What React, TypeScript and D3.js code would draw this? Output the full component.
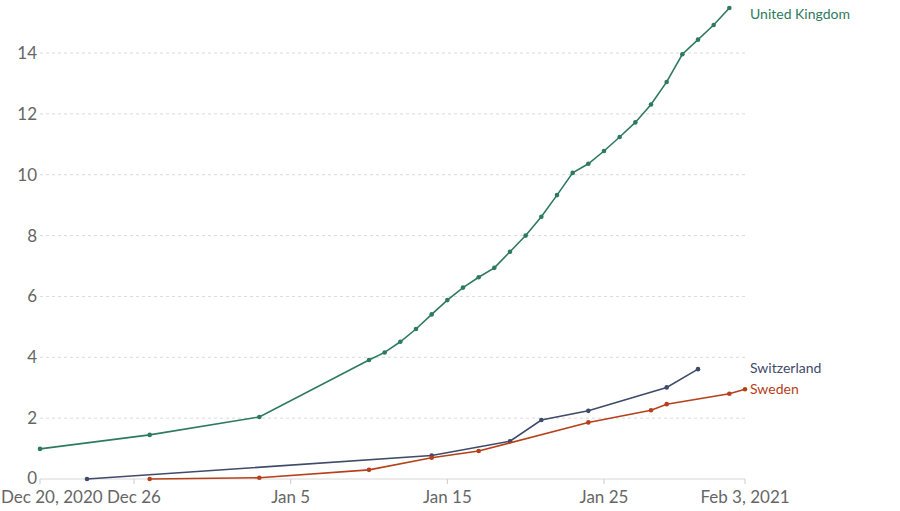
import React from "react";
import * as d3 from "d3";

const ukDates = ["2020-12-20","2020-12-27","2021-01-03","2021-01-10","2021-01-11","2021-01-12","2021-01-13","2021-01-14","2021-01-15","2021-01-16","2021-01-17","2021-01-18","2021-01-19","2021-01-20","2021-01-21","2021-01-22","2021-01-23","2021-01-24","2021-01-25","2021-01-26","2021-01-27","2021-01-28","2021-01-29","2021-01-30","2021-01-31","2021-02-01","2021-02-02"];
const ukValues = [0.99,1.45,2.04,3.91,4.16,4.51,4.93,5.41,5.88,6.29,6.63,6.94,7.47,8.0,8.62,9.33,10.06,10.36,10.78,11.24,11.72,12.31,13.05,13.96,14.44,14.92,15.48];

const chDates = ["2020-12-23","2021-01-14","2021-01-19","2021-01-21","2021-01-24","2021-01-29","2021-01-31"];
const chValues = [0.0,0.77,1.24,1.94,2.24,3.01,3.61];

const seDates = ["2020-12-27","2021-01-03","2021-01-10","2021-01-14","2021-01-17","2021-01-24","2021-01-28","2021-01-29","2021-02-02","2021-02-03"];
const seValues = [0.0,0.04,0.30,0.70,0.92,1.86,2.26,2.46,2.80,2.95];

const yTicks = [0, 2, 4, 6, 8, 10, 12, 14];
const xTickDates = ["2020-12-20","2020-12-26","2021-01-05","2021-01-15","2021-01-25","2021-02-03"];
const xTickLabels = ["Dec 20, 2020","Dec 26","Jan 5","Jan 15","Jan 25","Feb 3, 2021"];

const seriesNames = ["United Kingdom", "Switzerland", "Sweden"];
const seriesColors = ["#2e7a5e", "#3f4b68", "#b6401a"];

const parse = d3.timeParse("%Y-%m-%d");

export default function App() {
  const W = 900, H = 511;
  const left = 40, right = 745, top = 8, bottom = 479;
  const x = d3.scaleTime().domain([parse("2020-12-20")!, parse("2021-02-03")!]).range([left, right]);
  const y = d3.scaleLinear().domain([0, 15.48]).range([bottom, top]);

  const series = [
    { name: seriesNames[0], color: seriesColors[0], pts: ukDates.map((d, i) => ({ d: parse(d)!, v: ukValues[i] })), labelY: 14 },
    { name: seriesNames[1], color: seriesColors[1], pts: chDates.map((d, i) => ({ d: parse(d)!, v: chValues[i] })), labelY: 368 },
    { name: seriesNames[2], color: seriesColors[2], pts: seDates.map((d, i) => ({ d: parse(d)!, v: seValues[i] })), labelY: 389 },
  ];

  const line = d3.line<{ d: Date; v: number }>().x(p => x(p.d)).y(p => y(p.v));
  const font = "Lato, 'Noto Sans', sans-serif";

  return (
    <svg width={W} height={H} style={{ position: "absolute", left: 0, top: 0, background: "#fff" }} fontFamily={font}>
      {yTicks.map(t => (
        <g key={t}>
          {t > 0 && (
            <line x1={left} x2={right} y1={y(t)} y2={y(t)} stroke="#dadada" strokeDasharray="3,3" strokeWidth={1} />
          )}
          <text x={37} y={y(t)} dy={t === 0 ? "0.3em" : "0.35em"} textAnchor="end" fontSize={17} fill="#666">{t}</text>
        </g>
      ))}
      <line x1={left} x2={right} y1={bottom} y2={bottom} stroke="#d8d8d8" strokeWidth={1} />
      {xTickDates.map((d, i) => {
        const xx = x(parse(d)!);
        const anchor = i === 0 ? "start" : "middle";
        const tx = i === 0 ? 1 : xx;
        return (
          <g key={d}>
            <line x1={xx} x2={xx} y1={bottom} y2={bottom + 5} stroke="#ccc" />
            <text x={tx} y={503} textAnchor={anchor} fontSize={17} fill="#666">{xTickLabels[i]}</text>
          </g>
        );
      })}
      {series.map(s => (
        <g key={s.name}>
          <path d={line(s.pts) || ""} fill="none" stroke={s.color} strokeWidth={1.6} />
          {s.pts.map((p, i) => (
            <circle key={i} cx={x(p.d)} cy={y(p.v)} r={2.3} fill={s.color} />
          ))}
          <text x={750} y={s.labelY} dy="0.35em" fontSize={14} fill={s.color}>{s.name}</text>
        </g>
      ))}
    </svg>
  );
}
